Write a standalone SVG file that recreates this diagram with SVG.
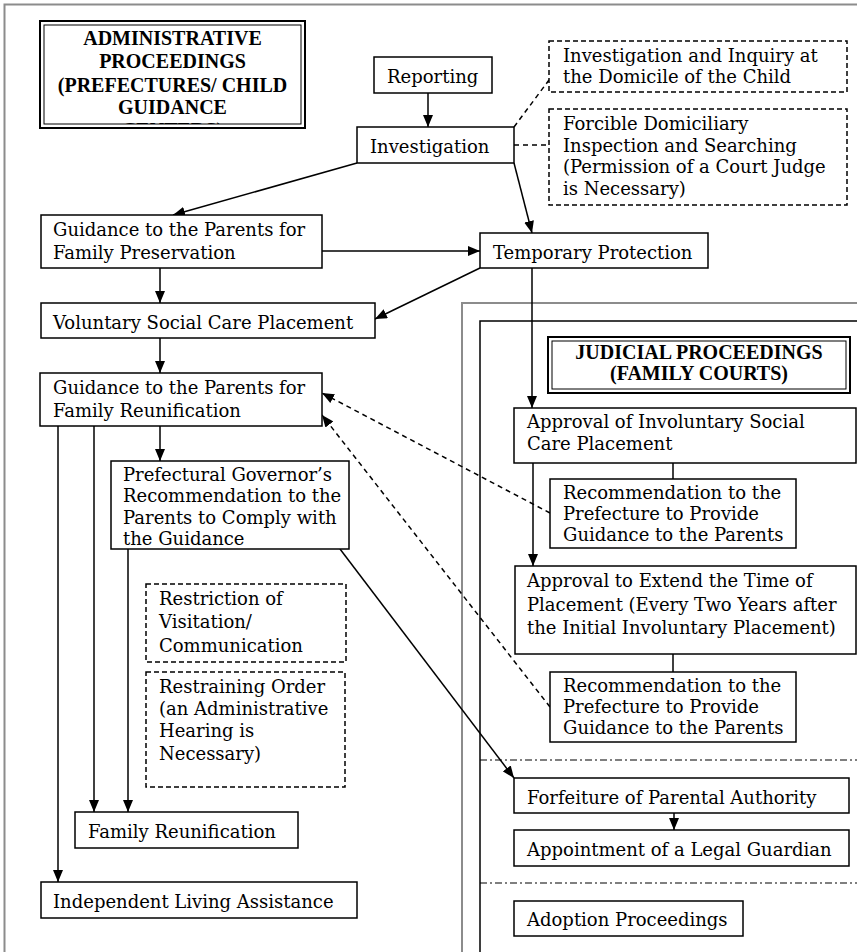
<svg xmlns="http://www.w3.org/2000/svg" width="857" height="952" viewBox="0 0 857 952">
<style>
.box{fill:#fff;stroke:#000;stroke-width:1.5}
.dbox{fill:#fff;stroke:#000;stroke-width:1.5;stroke-dasharray:5 3}
.t{font-family:"DejaVu Serif",serif;font-size:18px;fill:#000}
.title{font-family:"Liberation Serif",serif;font-weight:bold;font-size:20px;fill:#000;text-anchor:middle}
.ln{stroke:#000;stroke-width:1.5;fill:none}
.dash{stroke-dasharray:5 4}
.frame{stroke:#8c8c8c;stroke-width:2;fill:none}
.dd{stroke:#000;stroke-width:1.2;stroke-dasharray:7 3 2 3;fill:none}
</style>
<defs>
<marker id="ah" markerUnits="userSpaceOnUse" markerWidth="12" markerHeight="10" refX="12" refY="5" orient="auto">
<path d="M0,0 L12,5 L0,10 z" fill="#000"/>
</marker>
<clipPath id="adminClip"><rect x="44" y="25" width="257" height="99"/></clipPath>
</defs>
<rect width="857" height="952" fill="#fff"/>
<g id="frames">
<path class="frame" d="M4.5,952 V4.5 H857"/>
<path class="frame" d="M462,952 V303 H857"/>
<path class="ln" d="M480,952 V321 H857"/>
<path class="dd" d="M480,760 H857"/>
<path class="dd" d="M480,883 H857"/>
</g>
<g id="connectors">
<path class="ln" d="M428,93 V127" marker-end="url(#ah)"/>
<path class="ln" d="M357,163 L173,215" marker-end="url(#ah)"/>
<path class="ln" d="M514,163 L532,233" marker-end="url(#ah)"/>
<path class="ln dash" d="M514,127 L549,80"/>
<path class="ln dash" d="M514,145 H549"/>
<path class="ln" d="M322,251 H480" marker-end="url(#ah)"/>
<path class="ln" d="M160,268 V303" marker-end="url(#ah)"/>
<path class="ln" d="M480,268 L375,319" marker-end="url(#ah)"/>
<path class="ln" d="M160,338 V373" marker-end="url(#ah)"/>
<path class="ln" d="M160,426 V461" marker-end="url(#ah)"/>
<path class="ln" d="M58,426 V882" marker-end="url(#ah)"/>
<path class="ln" d="M94,426 V812" marker-end="url(#ah)"/>
<path class="ln" d="M128,549 V812" marker-end="url(#ah)"/>
<path class="ln" d="M340,549 L514,778" marker-end="url(#ah)"/>
<path class="ln" d="M532,268 V408" marker-end="url(#ah)"/>
<path class="ln" d="M673,463 V479"/>
<path class="ln" d="M533,463 V566" marker-end="url(#ah)"/>
<path class="ln" d="M673,654 V672"/>
<path class="ln" d="M674,813 V830" marker-end="url(#ah)"/>
<path class="ln dash" d="M550,513 L322,393" marker-end="url(#ah)"/>
<path class="ln dash" d="M550,707 L322,415" marker-end="url(#ah)"/>
</g>
<g id="admin-title">
<rect x="40" y="21" width="265" height="107" fill="#fff" stroke="#000" stroke-width="2"/>
<rect x="44" y="25" width="257" height="99" fill="none" stroke="#000" stroke-width="1"/>
<g clip-path="url(#adminClip)">
<text class="title" x="172.5" y="45">ADMINISTRATIVE</text>
<text class="title" x="172.5" y="68">PROCEEDINGS</text>
<text class="title" x="172.5" y="92">(PREFECTURES/ CHILD</text>
<text class="title" x="172.5" y="114">GUIDANCE</text>
<text class="title" x="172.5" y="137">CENTERS)</text>
</g>
</g>
<g id="reporting"><rect class="box" x="374" y="57" width="118" height="36"/><text class="t" x="387" y="83">Reporting</text></g>
<g id="investigation"><rect class="box" x="357" y="127" width="157" height="36"/><text class="t" x="370" y="153">Investigation</text></g>
<g id="inquiry"><rect class="dbox" x="549" y="41" width="298" height="51"/><text class="t" x="563" y="62">Investigation and Inquiry at</text><text class="t" x="563" y="83">the Domicile of the Child</text></g>
<g id="forcible"><rect class="dbox" x="549" y="109" width="298" height="96"/><text class="t" x="563" y="130">Forcible Domiciliary</text><text class="t" x="563" y="151.5">Inspection and Searching</text><text class="t" x="563" y="173">(Permission of a Court Judge</text><text class="t" x="563" y="194.5">is Necessary)</text></g>
<g id="preservation"><rect class="box" x="41" y="215" width="281" height="53"/><text class="t" x="53" y="236">Guidance to the Parents for</text><text class="t" x="53" y="259">Family Preservation</text></g>
<g id="temporary"><rect class="box" x="480" y="233" width="228" height="35"/><text class="t" x="493" y="259">Temporary Protection</text></g>
<g id="voluntary"><rect class="box" x="41" y="303" width="334" height="35"/><text class="t" x="53" y="329">Voluntary Social Care Placement</text></g>
<g id="reunification-guidance"><rect class="box" x="40" y="373" width="282" height="53"/><text class="t" x="53" y="394">Guidance to the Parents for</text><text class="t" x="53" y="417">Family Reunification</text></g>
<g id="prefectural"><rect class="box" x="111" y="461" width="238" height="88"/><text class="t" x="123" y="481">Prefectural Governor’s</text><text class="t" x="123" y="502">Recommendation to the</text><text class="t" x="123" y="524">Parents to Comply with</text><text class="t" x="123" y="545">the Guidance</text></g>
<g id="restriction"><rect class="dbox" x="146" y="584" width="200" height="78"/><text class="t" x="159" y="605">Restriction of</text><text class="t" x="159" y="628">Visitation/</text><text class="t" x="159" y="652">Communication</text></g>
<g id="restraining"><rect class="dbox" x="146" y="672" width="199" height="115"/><text class="t" x="159" y="693">Restraining Order</text><text class="t" x="159" y="715">(an Administrative</text><text class="t" x="159" y="737">Hearing is</text><text class="t" x="159" y="760">Necessary)</text></g>
<g id="family-reunification"><rect class="box" x="75" y="812" width="223" height="36"/><text class="t" x="88" y="838">Family Reunification</text></g>
<g id="independent"><rect class="box" x="41" y="882" width="316" height="36"/><text class="t" x="53" y="908">Independent Living Assistance</text></g>
<g id="judicial-title">
<rect x="548" y="337" width="302" height="56" fill="#fff" stroke="#000" stroke-width="2"/>
<rect x="552" y="341" width="294" height="48" fill="none" stroke="#000" stroke-width="1"/>
<text class="title" x="699" y="359">JUDICIAL PROCEEDINGS</text>
<text class="title" x="699" y="380">(FAMILY COURTS)</text>
</g>
<g id="approval-involuntary"><rect class="box" x="514" y="408" width="342" height="55"/><text class="t" x="527" y="428">Approval of Involuntary Social</text><text class="t" x="527" y="450">Care Placement</text></g>
<g id="recommendation-1"><rect class="box" x="550" y="479" width="246" height="69"/><text class="t" x="563" y="499">Recommendation to the</text><text class="t" x="563" y="520">Prefecture to Provide</text><text class="t" x="563" y="541">Guidance to the Parents</text></g>
<g id="approval-extend"><rect class="box" x="515" y="566" width="341" height="88"/><text class="t" x="527" y="587">Approval to Extend the Time of</text><text class="t" x="527" y="611">Placement (Every Two Years after</text><text class="t" x="527" y="634">the Initial Involuntary Placement)</text></g>
<g id="recommendation-2"><rect class="box" x="550" y="672" width="246" height="70"/><text class="t" x="563" y="692">Recommendation to the</text><text class="t" x="563" y="713">Prefecture to Provide</text><text class="t" x="563" y="734">Guidance to the Parents</text></g>
<g id="forfeiture"><rect class="box" x="514" y="778" width="335" height="35"/><text class="t" x="527" y="804">Forfeiture of Parental Authority</text></g>
<g id="appointment"><rect class="box" x="514" y="830" width="335" height="36"/><text class="t" x="527" y="856">Appointment of a Legal Guardian</text></g>
<g id="adoption"><rect class="box" x="514" y="901" width="229" height="35"/><text class="t" x="527" y="926">Adoption Proceedings</text></g>
</svg>
